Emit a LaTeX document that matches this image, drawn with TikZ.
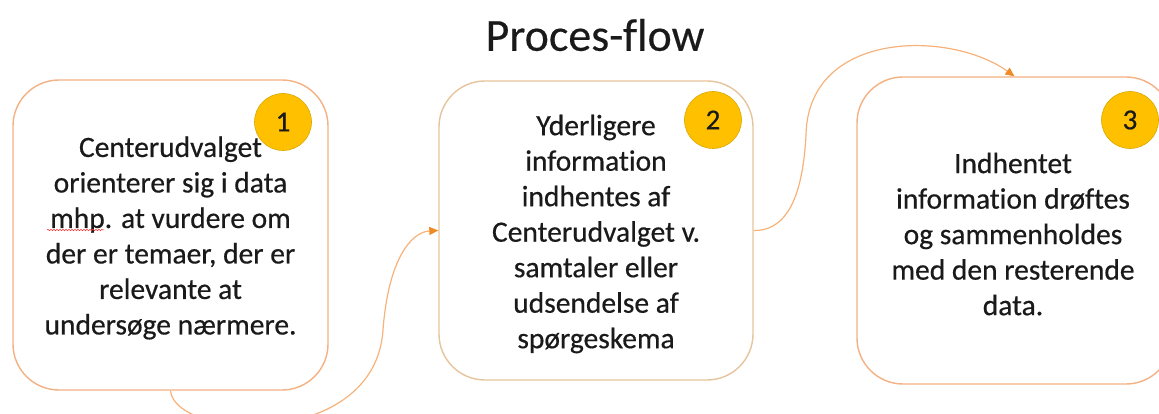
\documentclass[tikz,border=0pt]{standalone}
\usepackage{fontspec}
\setmainfont{Carlito}[Ligatures=NoCommon]
\newfontfamily\heavyfont{Carlito}[Ligatures=NoCommon, FakeBold=0.5]
\newfontfamily\titlefont{Carlito}[Ligatures=NoCommon, FakeBold=0.3]
\usetikzlibrary{arrows.meta,decorations.pathmorphing}
\definecolor{boxline}{HTML}{F4B183}
\definecolor{boxlinetan}{HTML}{E6C49C}
\definecolor{gold}{HTML}{FFC000}
\definecolor{goldline}{HTML}{D9A900}
\definecolor{flowline}{HTML}{F6B27A}
\definecolor{tipcol}{HTML}{F08A24}
\definecolor{txt}{HTML}{1A1A1A}
\tikzset{
  stepbox/.style={draw=boxline, line width=1.4pt, rounded corners=46pt, fill=white,
    minimum width=#1, minimum height=310pt, inner sep=0pt},
  badge/.style={circle, fill=gold, draw=goldline, line width=0.6pt, minimum size=57pt,
    inner sep=0pt, font=\heavyfont\fontsize{29}{30}\selectfont, text=txt},
  body/.style={align=center, text=txt, font=\heavyfont\fontsize{29.5}{35.5}\selectfont, inner sep=0pt}
}
\tikzset{
  flow/.style={draw=flowline, line width=1.2pt,
    -{Triangle[length=9pt,width=8pt,color=tipcol]}}
}
\begin{document}
\begin{tikzpicture}[x=1pt,y=-1pt]
\useasboundingbox (0,0) rectangle (1159,414);
\clip (0,0) rectangle (1159,414);

% title
\node[font=\titlefont\fontsize{46}{50}\selectfont, text=txt, inner sep=0pt] (title) at (595,35) {Proces-flow};

% step boxes
\node[stepbox=315pt] (b1) at (170.5,235) {};
\node[stepbox=314pt, draw=boxlinetan, minimum height=299pt] (b2) at (596,230.5) {};
\node[stepbox=315pt, minimum height=307pt] (b3) at (1014.5,230.5) {};

% box texts
\node[body] (t1) at (170.5,238) {Centerudvalget\\orienterer sig i data\\mhp. at vurdere om\\der er temaer, der er\\relevante at\\undersøge nærmere.};
\node[body] (t2) at (596,234) {Yderligere\\information\\indhentes af\\Centerudvalget v.\\samtaler eller\\udsendelse af\\spørgeskema};
\node[body] (t3) at (1013,234) {Indhentet\\information drøftes\\og sammenholdes\\med den resterende\\data.};

% spell-check squiggle under "mhp."
\coordinate (sq1) at (47,230);
\coordinate (sq2) at (104,230);
\draw[red!80, line width=0.5pt, decorate, decoration={snake, amplitude=0.8pt, segment length=3pt}] (sq1) -- (sq2);

% numbered badges
\node[badge] (n1) at (283,122) {1};
\node[badge] (n2) at (713,120) {2};
\node[badge] (n3) at (1130,120) {3};

% connectors
\coordinate (m1) at (383,330);
\coordinate (m2) at (806,135);
\draw[flow] (b1.south) .. controls (175,440) and (375,450) .. (m1)
  .. controls (388,262) and (410,232) .. (b2.west);
\draw[flow] (b2.east) .. controls (790,231) and (803,190) .. (m2)
  .. controls (808,30) and (950,30) .. (b3.north);
\end{tikzpicture}
\end{document}
